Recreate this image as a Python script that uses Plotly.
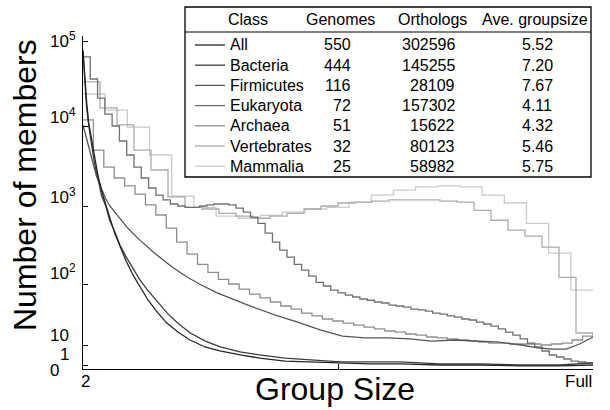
import numpy as np
import plotly.graph_objects as go

# ---------------- data ----------------
CLASSES = ["All", "Bacteria", "Firmicutes", "Eukaryota", "Archaea", "Vertebrates", "Mammalia"]
GENOMES = [550, 444, 116, 72, 51, 32, 25]
ORTHOLOGS = [302596, 145255, 28109, 157302, 15622, 80123, 58982]
AVE_GROUPSIZE = ["5.52", "7.20", "7.67", "4.11", "4.32", "5.46", "5.75"]
COLORS = ["#262626", "#3c3c3c", "#555555", "#707070", "#8e8e8e", "#ababab", "#cbcbcb"]

# smooth curves (group size, number of members)
ALL_G = [2, 4, 6, 8, 12, 15, 18, 22, 27, 31, 36, 42, 48, 56, 63, 72, 82, 92, 104, 117,
         133, 149, 171, 192, 219, 246, 278, 310, 343, 386, 429, 472, 515, 550]
ALL_V = [78000, 34700, 18700, 11100, 6130, 3760, 2440, 1540, 1030, 700, 450, 306, 202, 129,
         90, 55, 35, 23.4, 16.6, 12.2, 8.3, 5.6, 3.7, 2.6, 1.8, 1.6, 1.4, 1.2, 1.2, 1.0,
         1.0, 0.7, 0.7, 1.0]
BACT_G = [2, 4, 5, 7, 10, 12, 15, 18, 22, 25, 30, 34, 39, 45, 51, 58, 66, 75, 84, 95,
          108, 121, 138, 155, 177, 199, 225, 251, 277, 311, 346, 381, 415, 444]
BACT_V = [74300, 33000, 17200, 10000, 5460, 3350, 2180, 1370, 970, 660, 450, 316, 228, 160,
          115, 80, 53.5, 34, 23.4, 16, 11.7, 8.3, 5.1, 3.7, 2.6, 2.1, 1.6, 1.6, 1.6, 1.2,
          1.2, 1.0, 1.0, 1.4]
FIRM_G = [2, 3, 4, 5, 6, 7, 8, 10, 12, 14, 16, 18, 20, 22, 25, 28, 32, 36, 40, 45, 50, 55,
          60, 65, 70, 75, 80, 85, 90, 95, 100, 104, 107, 110, 113, 116]
FIRM_V = [10300, 6300, 3760, 2370, 1730, 1260, 1000, 722, 522, 400, 315, 249, 202, 164, 126,
          100, 72, 55, 42.7, 31.7, 24.3, 18, 14.2, 13.2, 13.2, 12.7, 11.7, 12.2, 11.7, 11.2,
          10, 7.5, 6.8, 6.8, 10.4, 13.7]

# stepped curves: one value per group size 2..N
EUK_V = [64900, 35700, 21300, 13800, 10000, 6490, 4340, 3070, 2240, 1680,
         1370, 1190, 1060, 1000, 960, 960, 1000, 1030, 1060, 1060,
         1030, 940, 837, 722, 601, 450, 345, 272, 221, 179,
         151, 126, 105, 93, 80, 72, 66.6, 62, 57.5, 55,
         51.5, 49.6, 46, 44.4, 42.7, 39.6, 38.3, 36.8, 34, 32.9,
         30.6, 29.4, 27.3, 26.3, 24.3, 22.6, 20.9, 18.7, 16.6, 14.8,
         12.7, 10.8, 8.3, 5.6, 3.7, 2.95, 2.33, 1.8, 1.58, 1.37, 1.37]
ARCH_V = [11800, 5000, 3070, 2240, 1780, 1410, 1030, 767, 522, 345,
          242, 179, 141, 115, 100, 83, 69, 60, 51.5, 44.4,
          39.6, 34, 30.6, 27.3, 25.3, 23.4, 21.7, 20.1, 18.7, 17.3,
          16.6, 15.4, 14.8, 13.7, 13.2, 12.7, 12.2, 11.7, 11.2, 10.8,
          10.8, 10.4, 10.4, 10.4, 10, 10.4, 10.8, 12.2, 14.2, 16]
VERT_V = [33000, 16300, 10300, 5000, 2820, 1300, 960, 915, 807, 744,
          697, 744, 807, 915, 1000, 1090, 1120, 1150, 1190, 1190,
          1190, 1150, 1120, 880, 657, 490, 412, 297, 122, 16, 16]
MAMM_V = [23800, 15400, 9700, 4340, 1330, 960, 744, 697, 760, 837, 915, 960,
          1120, 1370, 1580, 1730, 1780, 1730, 1370, 1090, 601, 249, 80, 80]

Y_TICK_VALUES = [0, 1, 10, 100, 1000, 10000, 100000]
Y_TICK_TEXT = ["0", "1", "10", "10<sup>2</sup>", "10<sup>3</sup>", "10<sup>4</sup>", "10<sup>5</sup>"]
X_TICK_TEXT = ["2", "Full"]

# ---------------- custom compressed-log scale ----------------
SCALE_LOG = np.log10(1.0 + np.array(Y_TICK_VALUES, dtype=float))
SCALE_POS = [0, 4, 24, 85, 163, 243, 328]
Y_TOP = 333


def yscale(v):
    return np.interp(np.log10(1.0 + np.asarray(v, dtype=float)), SCALE_LOG, SCALE_POS)


def xfrac(g, n):
    return (np.asarray(g, dtype=float) - 2.0) / (n - 2.0)


# pixel helpers for layout decorations
L, R, T, B = 83, 17, 36, 41
W, H = 610, 410
PW, PH = W - L - R, H - T - B


def px(x):
    return (x - L) / PW


def py(y):
    return (H - B - y) / PH


series = {
    "All": (ALL_G, ALL_V, "linear"),
    "Bacteria": (BACT_G, BACT_V, "linear"),
    "Firmicutes": (FIRM_G, FIRM_V, "linear"),
    "Eukaryota": (list(range(2, 73)), EUK_V, "hv"),
    "Archaea": (list(range(2, 52)), ARCH_V, "hv"),
    "Vertebrates": (list(range(2, 33)), VERT_V, "hv"),
    "Mammalia": (list(range(2, 26)), MAMM_V, "hv"),
}

fig = go.Figure()
for i in reversed(range(len(CLASSES))):
    name = CLASSES[i]
    g, v, shape = series[name]
    fig.add_trace(go.Scatter(
        x=xfrac(g, GENOMES[i]), y=yscale(v), mode="lines", name=name,
        line=dict(color=COLORS[i], width=1.3, shape=shape),
        showlegend=False, hoverinfo="skip"))

FONT = "Liberation Sans, Arial, Helvetica, sans-serif"

fig.update_layout(
    width=W, height=H,
    margin=dict(l=L, r=R, t=T, b=B),
    paper_bgcolor="white", plot_bgcolor="white",
    font=dict(family=FONT, color="black"),
    xaxis=dict(range=[0, 1], showline=True, linecolor="black", linewidth=1,
               ticks="inside", ticklen=5, tickcolor="black",
               tickvals=[0, 0.5, 1], showticklabels=False,
               showgrid=False, zeroline=False, fixedrange=True),
    yaxis=dict(range=[0, Y_TOP], showline=True, linecolor="black", linewidth=1,
               ticks="inside", ticklen=5, tickcolor="black",
               tickvals=list(yscale(Y_TICK_VALUES)), showticklabels=False,
               showgrid=False, zeroline=False, fixedrange=True),
)

ann = []
# y tick labels (label centre pixel y, right edge pixel x)
label_pos = [(370, 61), (354, 71), (335, 71), (272, 78), (196, 78), (116, 78), (40, 78)]
for txt, (yy, xr) in zip(Y_TICK_TEXT, label_pos):
    ann.append(dict(x=px(xr), y=py(yy), xref="paper", yref="paper", text=txt,
                    xanchor="right", yanchor="middle", showarrow=False,
                    font=dict(size=17, family=FONT, color="black")))
# x tick labels
for txt, xx in zip(X_TICK_TEXT, [85, 578]):
    ann.append(dict(x=px(xx), y=py(381), xref="paper", yref="paper", text=txt,
                    xanchor="center", yanchor="middle", showarrow=False,
                    font=dict(size=17, family=FONT, color="black")))
# axis titles
ann.append(dict(x=px(335), y=py(389), xref="paper", yref="paper", text="Group Size",
                xanchor="center", yanchor="middle", showarrow=False,
                font=dict(size=32, family=FONT, color="black")))
ann.append(dict(x=px(25), y=py(185), xref="paper", yref="paper", text="Number of members",
                xanchor="center", yanchor="middle", showarrow=False, textangle=-90,
                font=dict(size=32, family=FONT, color="black")))

# legend table
shapes = []
BX0, BX1, BY0, BY1 = 185, 591, 7, 177
shapes.append(dict(type="rect", xref="paper", yref="paper", x0=px(BX0), x1=px(BX1),
                   y0=py(BY1), y1=py(BY0), fillcolor="white",
                   line=dict(color="black", width=1.3), layer="above"))
shapes.append(dict(type="line", xref="paper", yref="paper", x0=px(BX0), x1=px(BX1),
                   y0=py(32), y1=py(32), line=dict(color="black", width=1), layer="above"))
tfont = dict(size=16, family=FONT, color="black")
for txt, xc in zip(["Class", "Genomes", "Orthologs", "Ave. groupsize"], [248, 340, 432, 535]):
    ann.append(dict(x=px(xc), y=py(20), xref="paper", yref="paper", text=txt,
                    xanchor="center", yanchor="middle", showarrow=False, font=tfont))
for i, name in enumerate(CLASSES):
    yy = 45 + i * 20.2
    shapes.append(dict(type="line", xref="paper", yref="paper", x0=px(195), x1=px(225),
                       y0=py(yy), y1=py(yy), line=dict(color=COLORS[i], width=1.3),
                       layer="above"))
    ann.append(dict(x=px(228), y=py(yy), xref="paper", yref="paper", text=name,
                    xanchor="left", yanchor="middle", showarrow=False, font=tfont))
    ann.append(dict(x=px(353), y=py(yy), xref="paper", yref="paper", text=str(GENOMES[i]),
                    xanchor="right", yanchor="middle", showarrow=False, font=tfont))
    ann.append(dict(x=px(457), y=py(yy), xref="paper", yref="paper", text=str(ORTHOLOGS[i]),
                    xanchor="right", yanchor="middle", showarrow=False, font=tfont))
    ann.append(dict(x=px(537), y=py(yy), xref="paper", yref="paper", text=AVE_GROUPSIZE[i],
                    xanchor="center", yanchor="middle", showarrow=False, font=tfont))

fig.update_layout(annotations=ann, shapes=shapes)
fig.write_html("out.html", config={"displayModeBar": False})
